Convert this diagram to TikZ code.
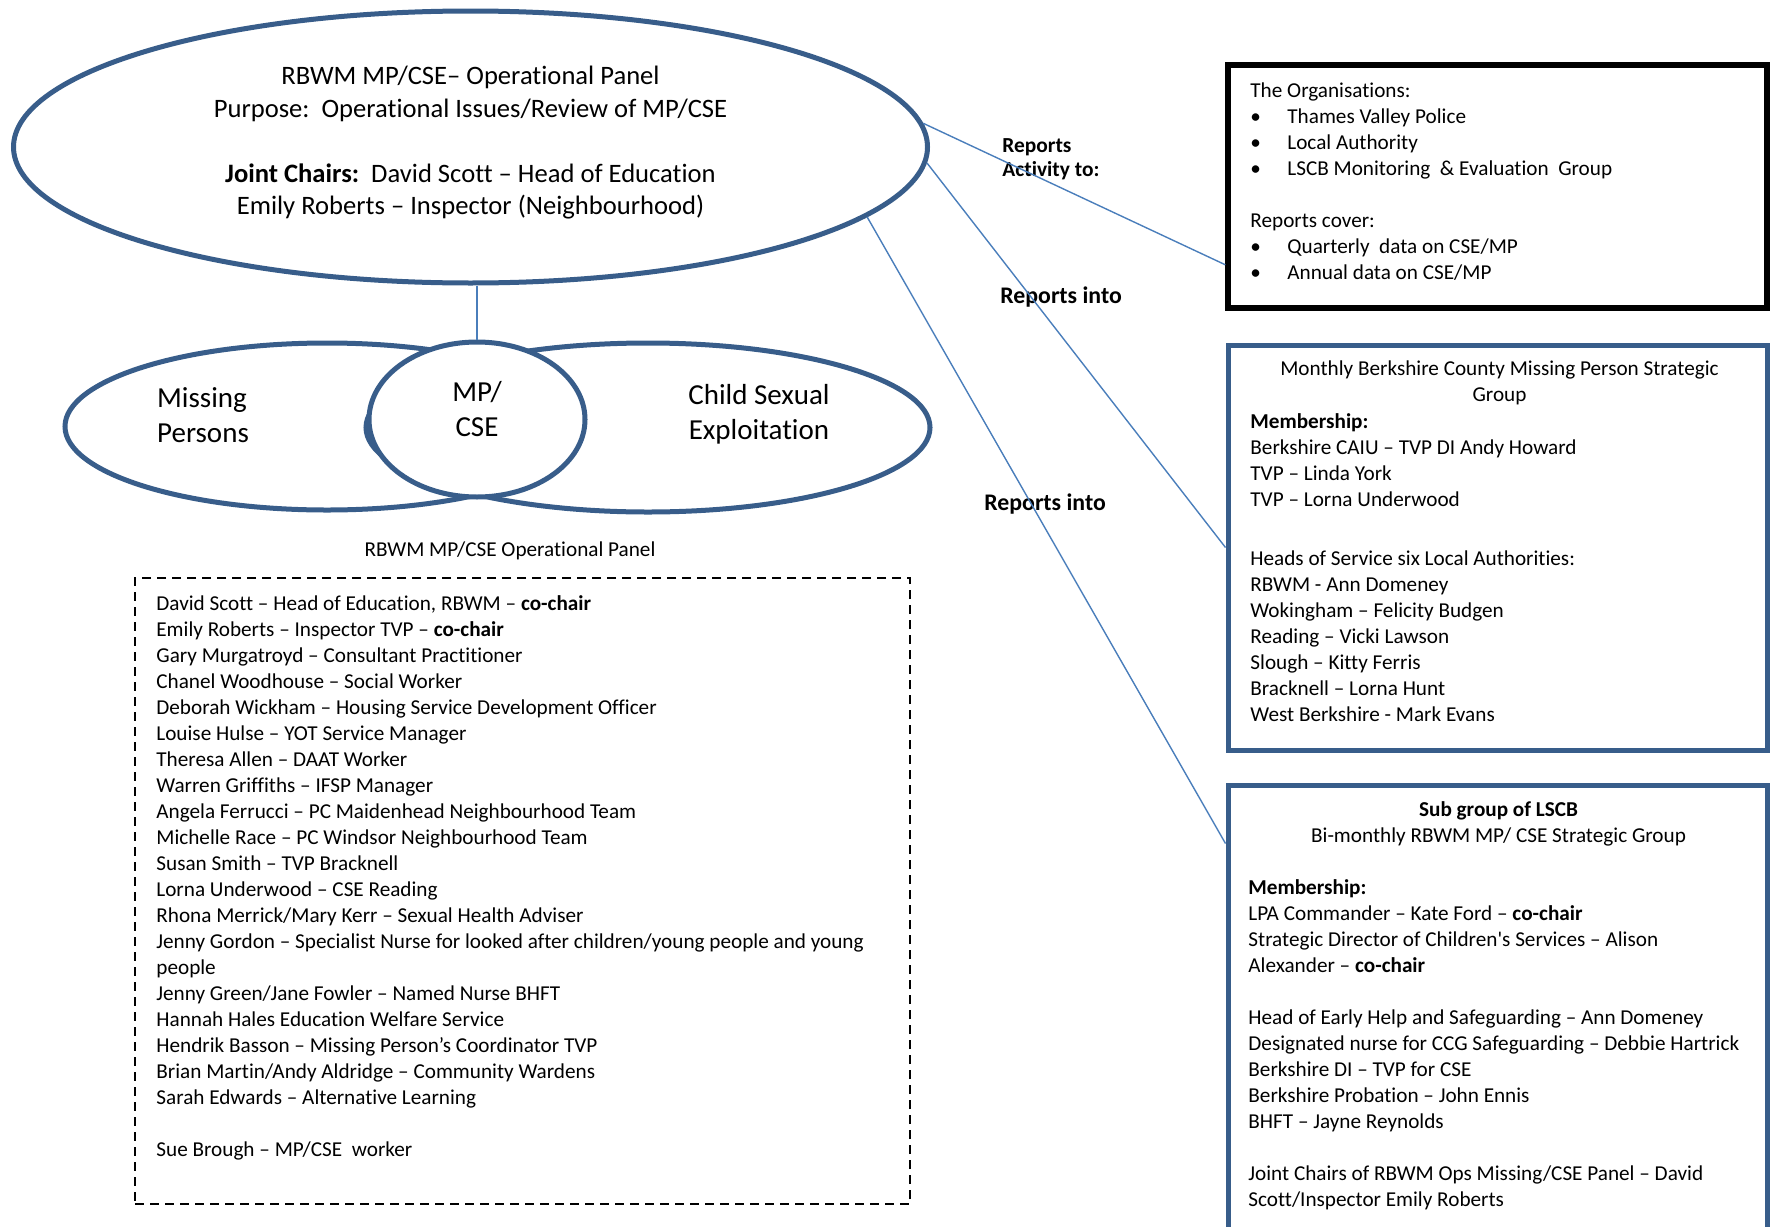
\documentclass[tikz,border=0pt]{standalone}
\usepackage{fontspec}
\setmainfont{Carlito}[Ligatures={TeX,NoCommon}]
\usepackage{tikz}
\usetikzlibrary{shapes.geometric, positioning, calc}
\definecolor{OvalBlue}{HTML}{385D8A}
\definecolor{LinkBlue}{HTML}{4A7EBB}
\newcommand{\bul}{\makebox[18.5pt][l]{\textbullet}}

\begin{document}
\begin{tikzpicture}[x=0.5pt, y=-0.5pt, font=\fontsize{10.6}{13}\selectfont,
    ovalshape/.style={ellipse, draw=OvalBlue, line width=2.5pt, fill=white, inner sep=0pt},
    groupbox/.style={rectangle, draw=OvalBlue, line width=2.5pt, minimum width=269.5pt, inner sep=0pt},
    listtext/.style={anchor=north west, align=left, inner sep=0pt},
    boxtitle/.style={anchor=north, align=center, inner sep=0pt},
    ovaltext/.style={align=center, font=\fontsize{14.5}{17.5}\selectfont},
    reportlabel/.style={anchor=base west, inner sep=0pt, font=\fontsize{11.9}{14}\selectfont\bfseries},
    linkline/.style={draw=LinkBlue, line width=0.7pt}]
\useasboundingbox (0,0) rectangle (1771,1226);

% Panel and its two areas
\node[ovalshape, minimum width=457pt, minimum height=136pt] (panel) at (470.5,147) {};
\node[align=center, font=\fontsize{13.3}{16.25}\selectfont] (paneltitle) at (470.5,143)
    {RBWM MP/CSE– Operational Panel\\Purpose:\ \ Operational Issues/Review of MP/CSE\\[16.25pt]%
     \textbf{Joint Chairs:}\ \ David Scott – Head of Education\\Emily Roberts – Inspector (Neighbourhood)};
\node[ovalshape, minimum width=262pt, minimum height=83.5pt] (missing) at (327,426.5) {};
\node[ovalshape, minimum width=282pt, minimum height=84.5pt] (cse) at (648,427.5) {};
\node[ovalshape, minimum width=108pt, minimum height=77.5pt] (overlap) at (477,419.5) {};
\node[ovaltext, align=left] (missingtext) at (203,415) {Missing\\Persons};
\node[ovaltext] (overlaptext) at (477,409) {MP/\\CSE};
\node[ovaltext] (csetext) at (759,414.5) {Child Sexual\\Exploitation};

% Panel members
\node[anchor=base, inner sep=0pt] (panellabel) at (510,556.5) {RBWM MP/CSE Operational Panel};
\node[draw, line width=0.75pt, dash pattern=on 4.5pt off 3pt, minimum width=387.5pt, minimum height=313pt] (members) at (522.5,891) {};
\node[listtext] (memberlist) at (156,591.5) {\strut David Scott – Head of Education, RBWM – \textbf{co-chair}\\
    Emily Roberts – Inspector TVP – \textbf{co-chair}\\
    Gary Murgatroyd – Consultant Practitioner\\
    Chanel Woodhouse – Social Worker\\
    Deborah Wickham – Housing Service Development Officer\\
    Louise Hulse – YOT Service Manager\\
    Theresa Allen – DAAT Worker\\
    Warren Griffiths – IFSP Manager\\
    Angela Ferrucci – PC Maidenhead Neighbourhood Team\\
    Michelle Race – PC Windsor Neighbourhood Team\\
    Susan Smith – TVP Bracknell\\
    Lorna Underwood – CSE Reading\\
    Rhona Merrick/Mary Kerr – Sexual Health Adviser\\
    Jenny Gordon – Specialist Nurse for looked after children/young people and young\\
    people\\
    Jenny Green/Jane Fowler – Named Nurse BHFT\\
    Hannah Hales Education Welfare Service\\
    Hendrik Basson – Missing Person’s Coordinator TVP\\
    Brian Martin/Andy Aldridge – Community Wardens\\
    Sarah Edwards – Alternative Learning\\[13pt]
    Sue Brough – MP/CSE\ \ worker};

% Groups reported to
\node[draw=black, line width=2.75pt, minimum width=269.5pt, minimum height=121.5pt, inner sep=0pt] (orgs) at (1497.5,186.5) {};
\node[listtext] (orgstext) at (1250,79.3) {\strut The Organisations:\\
    \bul Thames Valley Police\\
    \bul Local Authority\\
    \bul LSCB Monitoring\ \ \& Evaluation\ \ Group\\[13pt]
    Reports cover:\\
    \bul Quarterly\ \ data on CSE/MP\\
    \bul Annual data on CSE/MP};

\node[groupbox, minimum height=202.5pt] (countygrp) at (1497.5,547.5) {};
\node[boxtitle] (countytitle) at (1499.5,357.3) {\strut Monthly Berkshire County Missing Person Strategic\\Group};
\node[listtext] (countylist) at (1250,410) {\strut\textbf{Membership:}\\
    Berkshire CAIU – TVP DI Andy Howard\\
    TVP – Linda York\\
    TVP – Lorna Underwood\\[16.5pt]
    Heads of Service six Local Authorities:\\
    RBWM - Ann Domeney\\
    Wokingham – Felicity Budgen\\
    Reading – Vicki Lawson\\
    Slough – Kitty Ferris\\
    Bracknell – Lorna Hunt\\
    West Berkshire - Mark Evans};

\node[groupbox, minimum height=227.5pt] (lscbgrp) at (1497.5,1012.5) {};
\node[boxtitle] (lscbtitle) at (1498.5,798) {\strut\textbf{Sub group of LSCB}\\Bi-monthly RBWM MP/ CSE Strategic Group};
\node[listtext] (lscblist) at (1248,876) {\strut\textbf{Membership:}\\
    LPA Commander – Kate Ford – \textbf{co-chair}\\
    Strategic Director of Children\textquotesingle s Services – Alison\\
    Alexander – \textbf{co-chair}\\[13pt]
    Head of Early Help and Safeguarding – Ann Domeney\\
    Designated nurse for CCG Safeguarding – Debbie Hartrick\\
    Berkshire DI – TVP for CSE\\
    Berkshire Probation – John Ennis\\
    BHFT – Jayne Reynolds\\[13pt]
    Joint Chairs of RBWM Ops Missing/CSE Panel – David\\
    Scott/Inspector Emily Roberts};

% Labels
\node[listtext, font=\fontsize{10.7}{12}\selectfont\bfseries] (activitylabel) at (1002,135.7) {\strut Reports\\Activity to:};
\node[reportlabel] (intolabel) at (1000,303) {Reports into};
\node[reportlabel] (intolabeltwo) at (984,510) {Reports into};

% Paths
\draw[linkline] (panel.3) -- ([yshift=23pt]orgs.south west);
\draw[linkline] (panel.-2) -- (countygrp.west);
\draw[linkline] (panel.-10) -- ([yshift=-30.5pt]lscbgrp.north west);
\draw[linkline] (panel.south -| overlap.north) -- (overlap.north);
\end{tikzpicture}
\end{document}
